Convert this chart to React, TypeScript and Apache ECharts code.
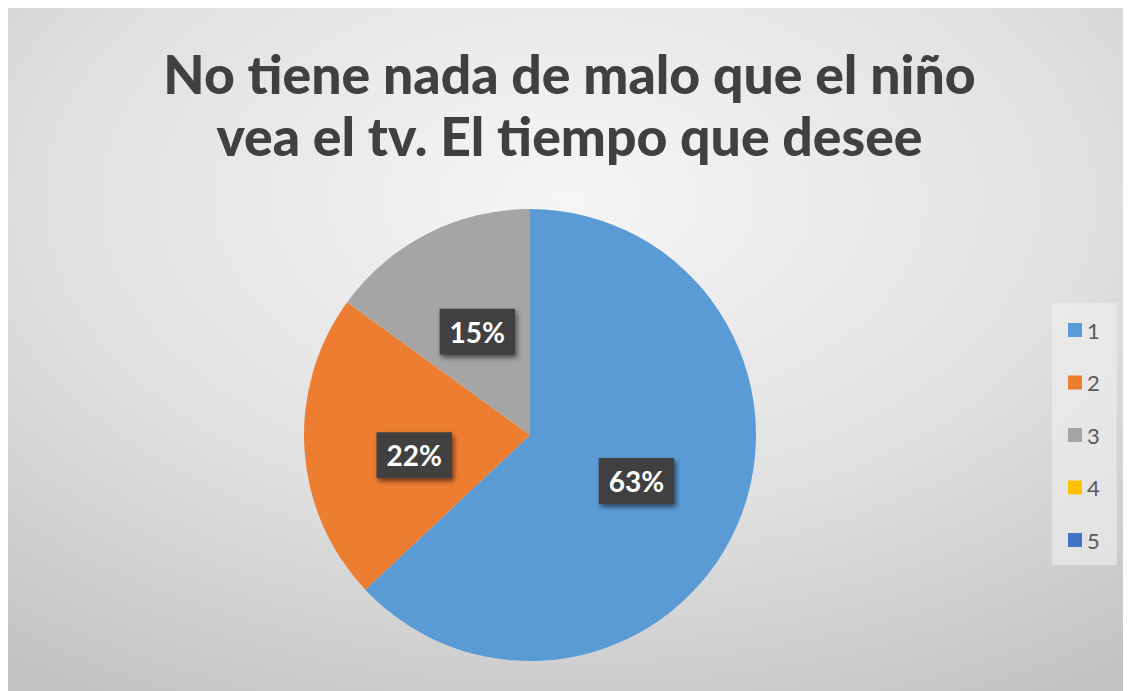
import React, { useEffect, useRef } from "react";
import * as echarts from "echarts";

const titleLines = ["No tiene nada de malo que el niño", "vea el tv. El tiempo que desee"];
const categories = ["1", "2", "3", "4", "5"];
const values = [63, 22, 15, 0, 0];
const colors = ["#5B9BD5", "#ED7D31", "#A5A5A5", "#FFC000", "#4472C4"];

const FONT = "Lato, 'Open Sans', sans-serif";

export default function App() {
  const ref = useRef<HTMLDivElement>(null);

  useEffect(() => {
    if (!ref.current) return;
    const chart = echarts.init(ref.current, undefined, { renderer: "svg" });
    const W = 1123;
    const H = 683;

    const data = categories.map((name, i) => ({
      name,
      value: values[i],
      itemStyle: { color: colors[i] },
      label:
        values[i] === 0
          ? { show: false }
          : i === 1
          ? { offset: [0, 13] }
          : {},
    }));

    chart.setOption({
      animation: false,
      graphic: [
        {
          type: "rect",
          z: -10,
          silent: true,
          shape: { x: 0, y: 0, width: W, height: H },
          style: {
            fill: new echarts.graphic.RadialGradient(0.5, 0.28, 0.85, [
              { offset: 0, color: "#f6f6f6" },
              { offset: 0.55, color: "#e0e0e0" },
              { offset: 1, color: "#c2c2c2" },
            ]),
          },
        },
      ],
      title: {
        text: titleLines.join("\n"),
        left: "center",
        top: 34,
        padding: 0,
        textStyle: {
          fontFamily: FONT,
          fontWeight: 900,
          fontSize: 53.5,
          lineHeight: 62,
          color: "#404040",
        },
      },
      legend: {
        orient: "vertical",
        left: 1044,
        top: 295,
        padding: [16, 17, 14, 16],
        itemWidth: 14,
        itemHeight: 14,
        itemGap: 30.5,
        icon: "rect",
        selectedMode: false,
        backgroundColor: "rgba(240,240,240,0.6)",
        textStyle: {
          fontFamily: FONT,
          fontSize: 22,
          lineHeight: 20,
          color: "#595959",
        },
        data: categories,
      },
      series: [
        {
          type: "pie",
          center: [522, 427],
          radius: 226,
          startAngle: 90,
          clockwise: true,
          percentPrecision: 0,
          silent: true,
          emphasis: { disabled: true },
          itemStyle: { borderWidth: 0 },
          labelLine: { show: false },
          label: {
            show: true,
            position: "inside",
            formatter: "{d}%",
            color: "#ffffff",
            fontFamily: FONT,
            fontWeight: "bold",
            fontSize: 28,
            lineHeight: 26,
            backgroundColor: "#404040",
            padding: [10, 10],
            shadowColor: "rgba(0,0,0,0.55)",
            shadowBlur: 5,
            shadowOffsetX: 2,
            shadowOffsetY: 3,
          },
          data,
        },
      ],
    });

    return () => chart.dispose();
  }, []);

  return <div ref={ref} style={{ width: 1123, height: 683 }} />;
}
